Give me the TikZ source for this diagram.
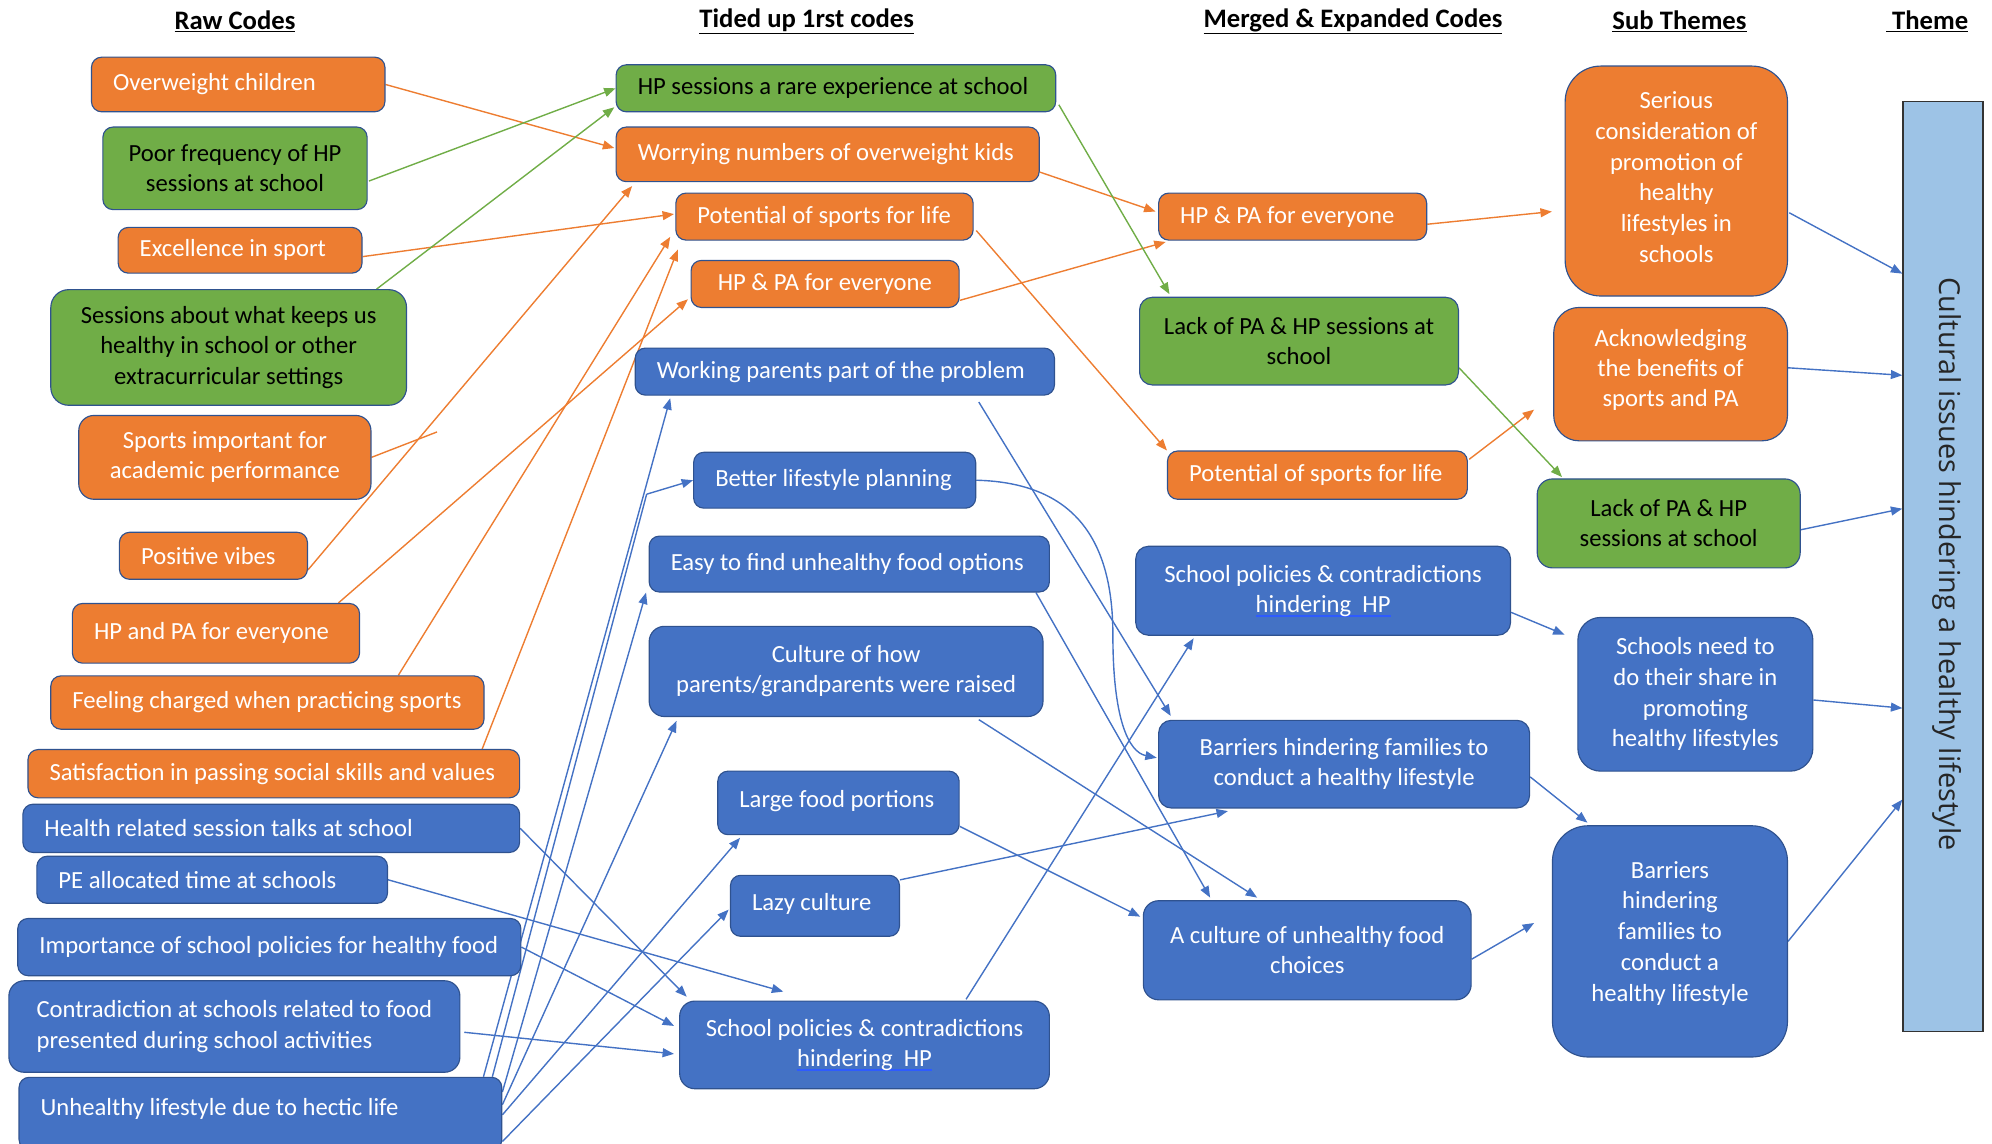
\documentclass[tikz,border=0pt]{standalone}
\usepackage{fontspec}
\setmainfont{Carlito}
\newfontfamily\themefont{Open Sans}
\usetikzlibrary{arrows.meta,calc}
\definecolor{ofill}{HTML}{ED7D31}
\definecolor{gfill}{HTML}{70AD47}
\definecolor{bfill}{HTML}{4472C4}
\definecolor{edge}{HTML}{2F528F}
\definecolor{thfill}{HTML}{9DC3E6}
\definecolor{ulblue}{HTML}{2E5BFF}
\pgfdeclarelayer{bg}
\pgfsetlayers{bg,main}
\newcommand\lbox[7][]{%
  \pgfmathsetmacro\bw{#5-#3}\pgfmathsetmacro\bh{#6-#4}%
  \pgfmathsetmacro\bcx{(#3+#5)/2}\pgfmathsetmacro\bcy{(#4+#6)/2}%
  \pgfmathsetmacro\btw{#5-#3-34}%
  \node[box,minimum width=\bw pt,minimum height=\bh pt,#1] (#2) at (\bcx,\bcy) {\makebox[\btw pt][l]{#7}};}
\newcommand\cbox[7][]{%
  \pgfmathsetmacro\bw{#5-#3}\pgfmathsetmacro\bh{#6-#4}%
  \pgfmathsetmacro\bcx{(#3+#5)/2}\pgfmathsetmacro\bcy{(#4+#6)/2}%
  \node[box,align=center,inner xsep=4pt,minimum width=\bw pt,minimum height=\bh pt,#1] (#2) at (\bcx,\bcy) {#7};}
\newcommand\spellul[1]{\setbox0\hbox{#1}\rlap{\color{ulblue}\rule[-3.5pt]{\wd0}{1pt}}\box0}
\tikzset{
  box/.style={draw=edge,line width=0.9pt,rounded corners=8pt,inner xsep=17pt,inner ysep=2pt,
    font=\fontsize{19.4}{23.7}\selectfont},
  ob/.style={fill=ofill,text=white},
  gb/.style={fill=gfill,text=black},
  bb/.style={fill=bfill,text=white},
  hdr/.style={font=\fontsize{21}{24}\selectfont\bfseries,text=black},
  conn/.style={line width=1.1pt},
  tip/.style={-{Triangle[length=9pt,width=7pt]}},
  oarr/.style={conn,tip,draw=ofill},
  garr/.style={conn,tip,draw=gfill},
  barr/.style={conn,tip,draw=bfill},
  oline/.style={conn,draw=ofill},
  bline/.style={conn,draw=bfill},
}
\begin{document}
\begin{tikzpicture}[x=1pt,y=-1pt]
\useasboundingbox (0,0) rectangle (1568,900);
% headers
\node[hdr] (h1) at (185,17) {\underline{Raw Codes}};
\node[hdr] (h2) at (635,17) {\underline{Tided up 1rst codes}};
\node[hdr] (h3) at (1065,17) {\underline{Merged \& Expanded Codes}};
\node[hdr] (h4) at (1322,17) {\underline{Sub Themes}};
\node[hdr] (h5) at (1517,17) {\underline{\ Theme}};
% column 1
\lbox[ob]{ow}{72}{45}{303}{88}{Overweight children}
\cbox[gb]{pf}{81}{100}{289}{165}{Poor frequency of HP\\sessions at school}
\lbox[ob]{ex}{93}{179}{285}{215}{Excellence in sport}
\cbox[gb,rounded corners=14pt]{se}{40}{228}{320}{319}{Sessions about what keeps us\\healthy in school or other\\extracurricular settings}
\cbox[ob,rounded corners=12pt]{sp}{62}{327}{292}{393}{Sports important for\\academic performance}
\lbox[ob]{pv}{94}{419}{242}{456}{Positive vibes}
\lbox[ob]{hpa}{57}{475}{283}{522}{HP and PA for everyone}
\lbox[ob]{fc}{40}{532}{381}{574}{Feeling charged when practicing sports}
\lbox[ob]{sa}{22}{590}{409}{628}{Satisfaction in passing social skills and values}
\lbox[bb]{hr}{18}{633}{409}{671}{Health related session talks at school}
\lbox[bb]{pe}{29}{674}{305}{711}{PE allocated time at schools}
\lbox[bb]{im}{14}{723}{410}{768}{Importance of school policies for healthy food}
\cbox[bb,align=left,rounded corners=12pt]{co}{7}{772}{362}{844}{Contradiction at schools related to food\\presented during school activities}
\lbox[bb]{un}{15}{848}{395}{905}{\raisebox{10pt}{Unhealthy lifestyle due to hectic life}}
% column 2
\lbox[gb]{hs}{485}{51}{831}{88}{HP sessions a rare experience at school}
\lbox[ob]{wn}{485}{100}{818}{143}{Worrying numbers of overweight kids}
\lbox[ob]{ps}{532}{152}{766}{189}{Potential of sports for life}
\lbox[ob]{hp2}{544}{205}{755}{242}{\hspace{4pt}HP \& PA for everyone}
\lbox[bb]{wp}{500}{274}{830}{311}{Working parents part of the problem}
\lbox[bb]{bl}{546}{356}{768}{400}{Better lifestyle planning}
\lbox[bb]{ez}{511}{422}{826}{466}{Easy to find unhealthy food options}
\cbox[bb,rounded corners=12pt]{cu}{511}{493}{821}{564}{Culture of how\\parents/grandparents were raised}
\lbox[bb]{lf}{565}{607}{755}{657}{\raisebox{6pt}{Large food portions}}
\lbox[bb]{lz}{575}{689}{708}{737}{\raisebox{6pt}{Lazy culture}}
\cbox[bb,rounded corners=12pt]{sc2}{535}{788}{826}{857}{School policies \& contradictions\\\spellul{hindering\ \ HP}}
% column 3
\lbox[ob]{hp3}{912}{152}{1123}{189}{HP \& PA for everyone}
\cbox[gb,rounded corners=10pt]{lk3}{897}{234}{1148}{303}{Lack of PA \& HP sessions at\\school}
\lbox[ob]{pt3}{919}{355}{1155}{393}{Potential of sports for life}
\cbox[bb,rounded corners=10pt]{sc3}{894}{430}{1189}{500}{School policies \& contradictions\\\spellul{hindering\ \ HP}}
\cbox[bb,rounded corners=10pt]{ba3}{912}{567}{1204}{636}{Barriers hindering families to\\conduct a healthy lifestyle}
\cbox[bb,rounded corners=12pt]{ac3}{900}{709}{1158}{787}{A culture of unhealthy food\\choices}
% column 4
\cbox[ob,rounded corners=28pt,font=\fontsize{19.4}{24.3}\selectfont]{sr}{1232}{52}{1407}{233}{Serious\\consideration of\\promotion of\\healthy\\lifestyles in\\schools\\[-18pt]}
\cbox[ob,rounded corners=20pt,font=\fontsize{19.4}{23.8}\selectfont]{ak}{1223}{242}{1407}{347}{Acknowledging\\the benefits of\\sports and PA\\[-13.8pt]}
\cbox[gb,rounded corners=12pt]{lk4}{1210}{377}{1417}{447}{Lack of PA \& HP\\sessions at school}
\cbox[bb,rounded corners=18pt,font=\fontsize{19.4}{24.2}\selectfont]{sn}{1242}{486}{1427}{607}{Schools need to\\do their share in\\promoting\\healthy lifestyles}
\cbox[bb,rounded corners=28pt,font=\fontsize{19.4}{24.2}\selectfont]{bs}{1222}{650}{1407}{832}{Barriers\\hindering\\families to\\conduct a\\healthy lifestyle\\[-8pt]}
% theme
\node[draw=black!80,line width=1.2pt,fill=thfill,minimum width=63pt,minimum height=732pt,inner sep=0pt] (th) at (1529.5,446) {};
\node[rotate=-90,font=\themefont\fontsize{22.7}{26}\selectfont,text=black!85] (tht) at (1533,444) {Cultural issues hindering a healthy lifestyle};
% connectors
\begin{pgfonlayer}{bg}
\draw[oarr] (ow.east) -- ([shift={(-1,-5)}]wn.west);
\draw[oarr] ([shift={(0,5)}]ex.east) -- ([shift={(-1,-2)}]ps.west);
\draw[oarr] ([shift={(0,30)}]pv.north east) -- ([shift={(13,3)}]wn.south west);
\draw[oarr] ([shift={(-17,0)}]hpa.north east) -- ([shift={(-2,31)}]hp2.north west);
\draw[oarr] ([shift={(274,0)}]fc.north west) -- ([shift={(-4,-3)}]ps.south west);
\draw[oarr] ([shift={(358,0)}]sa.north west) -- ([shift={(2,7)}]ps.south west);
\coordinate (spend) at (344,340);
\draw[oline] (sp.east) -- (spend);
\draw[oarr] ([shift={(0,-8)}]wn.south east) -- ([shift={(-2,-4)}]hp3.west);
\draw[oarr] ([shift={(2,-8)}]ps.south east) -- (pt3.north west);
\draw[oarr] ([shift={(0,-6)}]hp2.south east) -- ([shift={(6,1)}]hp3.south west);
\draw[oarr] ([shift={(0,6)}]hp3.east) -- ([shift={(-10,115)}]sr.north west);
\draw[oarr] ([shift={(1,7)}]pt3.north east) -- ([shift={(-15,-25)}]ak.south west);
\draw[garr] ([shift={(1,10)}]pf.east) -- (hs.west);
\draw[garr] ([shift={(-24,0)}]se.north east) -- ([shift={(-1,-4)}]hs.south west);
\draw[garr] ([shift={(2,-6)}]hs.south east) -- ([shift={(24,-2)}]lk3.north west);
\draw[garr] ([shift={(0,21)}]lk3.east) -- ([shift={(20,-1)}]lk4.north west);
\draw[barr] ([shift={(366,0)}]un.north west) -- ([shift={(28,2)}]wp.south west);
\coordinate (brk) at (509,389);
\draw[bline] ([shift={(373,0)}]un.north west) -- (brk);
\draw[barr] (brk) -- (bl.west);
\draw[barr] ([shift={(0,12)}]un.north east) -- ([shift={(-2,0)}]ez.south west);
\draw[barr] ([shift={(0,22)}]un.north east) -- ([shift={(22,3)}]cu.south west);
\draw[barr] ([shift={(0,30)}]un.north east) -- ([shift={(18,2)}]lf.south west);
\draw[barr] ([shift={(0,51)}]un.north east) -- ([shift={(-1,3)}]lz.west);
\draw[barr] (hr.east) -- ([shift={(6,-3)}]sc2.north west);
\draw[barr] (pe.east) -- ([shift={(82,-7)}]sc2.north west);
\draw[barr] (im.east) -- ([shift={(-4,20)}]sc2.north west);
\draw[barr] ([shift={(3,41)}]co.north east) -- ([shift={(-4,42)}]sc2.north west);
\draw[barr] ([shift={(-60,5)}]wp.south east) -- ([shift={(10,-3)}]ba3.north west);
\draw[barr] (bl.east) .. controls (850,380) and (876,430) .. (876,500) .. controls (876,565) and (888,592) .. ([shift={(-1,-5)}]ba3.west);
\draw[barr] ([shift={(-11,0)}]ez.south east) -- ([shift={(53,-2)}]ac3.north west);
\draw[barr] ([shift={(-51,2)}]cu.south east) -- ([shift={(90,-2)}]ac3.north west);
\draw[barr] ([shift={(0,-7)}]lf.south east) -- ([shift={(-2,13)}]ac3.north west);
\draw[barr] ([shift={(0,4)}]lz.north east) -- ([shift={(55,2)}]ba3.south west);
\draw[barr] ([shift={(-66,-1)}]sc2.north east) -- ([shift={(46,2)}]sc3.south west);
\draw[barr] ([shift={(0,17)}]sc3.east) -- ([shift={(-10,14)}]sn.north west);
\draw[barr] ([shift={(0,10)}]ba3.east) -- ([shift={(28,-2)}]bs.north west);
\draw[barr] ([shift={(0,7)}]ac3.east) -- ([shift={(-14,77)}]bs.north west);
\draw[barr] ([shift={(1,25)}]sr.east) -- ([shift={(0,136)}]th.north west);
\draw[barr] ([shift={(0,-5)}]ak.east) -- ([shift={(0,216)}]th.north west);
\draw[barr] ([shift={(0,5)}]lk4.east) -- ([shift={(0,321)}]th.north west);
\draw[barr] ([shift={(0,4.5)}]sn.east) -- ([shift={(0,478)}]th.north west);
\draw[barr] (bs.east) -- ([shift={(0,550)}]th.north west);
\end{pgfonlayer}
\end{tikzpicture}
\end{document}
